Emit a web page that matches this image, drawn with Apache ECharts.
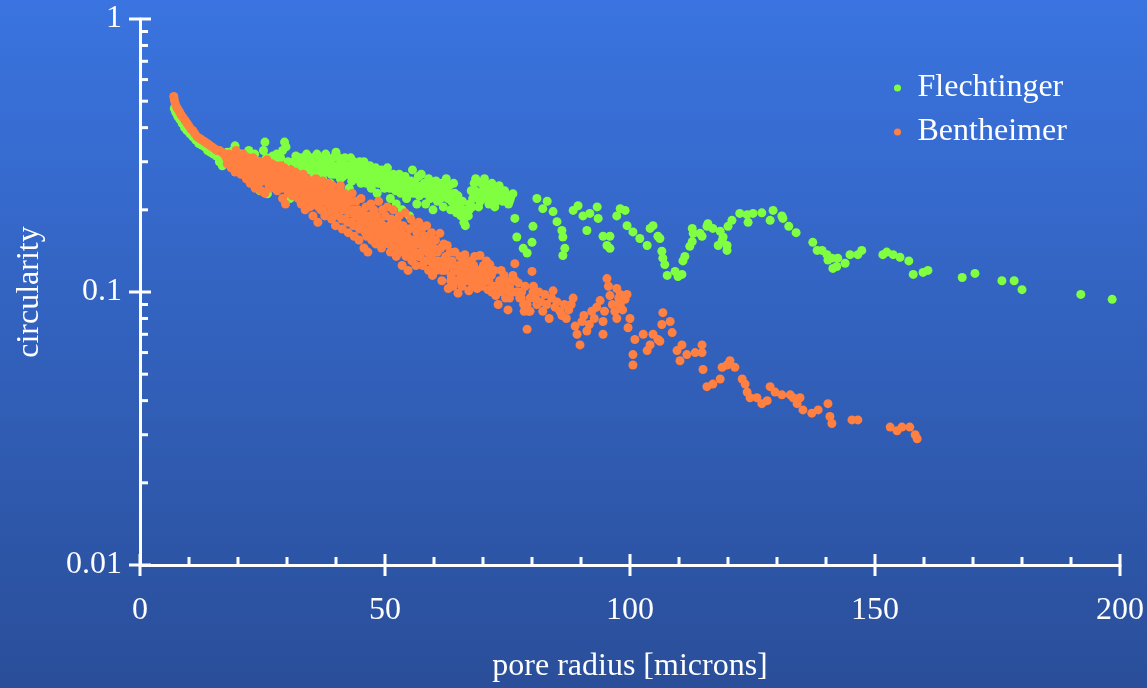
<!DOCTYPE html>
<html>
<head>
<meta charset="utf-8">
<script src="https://cdn.jsdelivr.net/npm/echarts@6/dist/echarts.min.js"></script>
<style>
html,body{margin:0;padding:0;background:#2f5cbc;}
#chart{width:1147px;height:688px;}
</style>
</head>
<body>
<div id="chart"></div>
<script>
// ---- data (x: pore radius [microns], y: circularity) ----
const seriesNames = ['Flechtinger', 'Bentheimer'];

const flechtingerHead = [
[7.0,0.47],[7.3,0.455],[7.7,0.44],[8.1,0.43],[8.6,0.415],[9.1,0.40],[9.6,0.39],[10.2,0.38],[10.8,0.37],[11.4,0.36],
[12.0,0.35],[12.6,0.345],[13.2,0.34],[13.8,0.33],[14.4,0.325],[15.0,0.32],[15.6,0.315],[16.2,0.30],[16.8,0.29]
];
const flechtingerBand1 = [
[17.0,0.32],[17.4,0.30],[17.8,0.325],[18.2,0.31],[18.6,0.29],[19.0,0.33],[19.4,0.343],[19.8,0.31],[20.2,0.29],[20.6,0.32],
[21.0,0.30],[21.4,0.28],[21.8,0.32],[22.2,0.33],[22.6,0.30],[23.0,0.285],[23.4,0.32],[23.8,0.27],[24.2,0.30],[24.5,0.235],
[24.8,0.26],[25.2,0.33],[25.5,0.354],[25.8,0.31],[26.0,0.229],[26.3,0.25],[26.7,0.29],[27.1,0.315],[27.5,0.30],[27.9,0.32],
[28.3,0.29],[28.7,0.31],[29.1,0.33],[29.5,0.354],[29.8,0.34],[30.2,0.30],[30.6,0.22],[31.0,0.26],[31.4,0.30],[31.8,0.315],[32.2,0.29]
];
const flechtingerBand2 = [
[32.5,0.29],[32.8,0.31],[33.1,0.27],[33.4,0.30],[33.7,0.25],[34.0,0.32],[34.3,0.28],[34.6,0.30],[34.9,0.26],[35.2,0.31],
[35.5,0.29],[35.8,0.27],[36.1,0.32],[36.4,0.30],[36.7,0.28],[37.0,0.31],[37.3,0.26],[37.6,0.30],[37.9,0.32],[38.2,0.28],
[38.5,0.30],[38.8,0.25],[39.1,0.29],[39.4,0.31],[39.7,0.27],[40.0,0.325],[40.3,0.29],[40.6,0.31],[40.9,0.26],[41.2,0.30],
[41.5,0.28],[41.8,0.31],[42.1,0.27],[42.4,0.29],[42.7,0.24],[43.0,0.31],[43.3,0.28],[43.6,0.30],[43.9,0.26],[44.2,0.29],
[44.5,0.27],[44.8,0.30],[45.1,0.25],[45.4,0.28],[45.7,0.30],[46.0,0.26],[46.3,0.285],[46.6,0.27],[46.9,0.29],[47.2,0.24],
[47.5,0.275],[47.8,0.26],[48.1,0.285],[48.4,0.23],[48.7,0.27],[49.0,0.25],[49.3,0.28],[49.6,0.26],[49.9,0.24],[50.2,0.27],
[50.5,0.285],[50.8,0.25],[51.1,0.22],[51.4,0.26],[51.7,0.27],[52.0,0.24],[52.3,0.21],[52.6,0.255],[52.9,0.27],[53.2,0.23],
[53.5,0.20],[53.8,0.25],[54.1,0.265],[54.4,0.22],[54.7,0.24],[55.0,0.19],[55.3,0.255],[55.6,0.28],[55.9,0.23],[56.2,0.25],
[56.5,0.21],[56.8,0.265],[57.1,0.24]
];
const flechtingerBand3 = [
[57.4,0.27],[57.7,0.23],[58.0,0.25],[58.3,0.21],[58.6,0.24],[58.9,0.26],[59.2,0.22],[59.5,0.245],[59.8,0.20],[60.1,0.23],
[60.4,0.255],[60.7,0.215],[61.0,0.24],[61.3,0.22],[61.6,0.25],[61.9,0.205],[62.2,0.235],[62.5,0.26],[62.8,0.22],[63.1,0.245],
[63.4,0.20],[63.7,0.225],[64.0,0.25],[64.3,0.21],[64.6,0.195],[64.9,0.225],[65.2,0.20],[65.5,0.19],[65.8,0.215],[66.1,0.18],
[66.4,0.175],[66.7,0.20],[67.0,0.19],[67.3,0.21],[67.6,0.235],[67.9,0.22],[68.2,0.25],[68.5,0.26],[68.8,0.23],[69.1,0.205],
[69.4,0.215],[69.7,0.25],[70.0,0.235],[70.3,0.26],[70.6,0.22],[70.9,0.245],[71.2,0.21],[71.5,0.235],[71.8,0.25],[72.1,0.225],
[72.4,0.205],[72.7,0.24],[73.0,0.22],[73.3,0.245],[73.6,0.23],[74.0,0.215],[74.4,0.235],[74.8,0.225],[75.2,0.21],[75.6,0.22],
[76.1,0.229],[76.5,0.186]
];
const flechtingerFill = [
[33.0,0.29],[33.6,0.28],[34.2,0.295],[34.8,0.285],[35.4,0.275],[36.0,0.29],[36.6,0.27],[37.2,0.285],[37.8,0.275],[38.4,0.29],
[39.0,0.27],[39.6,0.285],[40.2,0.275],[40.8,0.285],[41.4,0.265],[42.0,0.28],[42.6,0.27],[43.2,0.255],[43.8,0.275],[44.4,0.26],
[45.0,0.275],[45.6,0.265],[46.2,0.25],[46.8,0.265],[47.4,0.255],[48.0,0.27],[48.6,0.25],[49.2,0.26],[49.8,0.245],[50.4,0.26],
[51.0,0.24],[51.6,0.25],[52.2,0.235],[52.8,0.245],[53.4,0.255],[54.0,0.235],[54.6,0.25],[55.2,0.23],[55.8,0.245],[56.4,0.235],
[57.0,0.225],[57.6,0.245],[58.2,0.23],[58.8,0.24],[59.4,0.225],[60.0,0.24],[60.6,0.23],[61.2,0.235],[61.8,0.225],[62.4,0.24],
[63.0,0.23],[63.6,0.215],[64.2,0.23],[64.8,0.21],[65.4,0.205],[66.0,0.195],[66.6,0.19],[67.2,0.20],[67.8,0.205],[68.4,0.235],
[69.0,0.22],[69.6,0.23],[70.2,0.24],[70.8,0.23],[71.4,0.22],[72.0,0.235],[72.6,0.215],[73.2,0.23],[73.8,0.22],[74.6,0.225],[75.4,0.215]
];
const flechtingerTail = [
[76.9,0.159],[78.2,0.1445],[79.0,0.139],[80.0,0.152],[80.2,0.174],[81.0,0.220],[83.1,0.215],[82.2,0.202],[84.3,0.197],[85.1,0.181],
[86.1,0.168],[86.3,0.159],[86.7,0.1445],[86.3,0.136],[88.4,0.199],[89.4,0.207],[90.4,0.190],[91.8,0.194],[93.3,0.205],[93.5,0.186],
[91.2,0.168],[94.5,0.160],[95.9,0.160],[95.3,0.148],[95.9,0.1445],[98.0,0.202],[99.0,0.199],[97.3,0.190],[99.4,0.175],[100.6,0.166],
[102.0,0.157],[103.5,0.148],[104.1,0.171],[104.7,0.175],[105.7,0.160],[106.1,0.157],[106.5,0.141],[106.7,0.133],[107.1,0.126],[107.6,0.115],
[109.2,0.119],[109.8,0.114],[110.6,0.116],[110.8,0.130],[111.2,0.135],[112.2,0.147],[112.7,0.153],[112.9,0.164],[112.7,0.171],[114.3,0.164],
[114.7,0.160],[115.7,0.174],[115.9,0.178],[116.9,0.171],[118.4,0.167],[119.0,0.159],[118.8,0.154],[118.0,0.148],[119.8,0.148],[119.8,0.142],
[120.0,0.174],[120.8,0.183],[122.4,0.194],[123.9,0.192],[124.1,0.180],[125.1,0.194],[126.9,0.195],[128.6,0.183],[129.2,0.199],[131.0,0.190],
[131.2,0.186],[132.4,0.174],[133.9,0.165],[137.3,0.152],[138.2,0.142],[139.2,0.142],[140.2,0.137],[140.4,0.131],[141.2,0.133],[141.4,0.122],
[142.2,0.124],[142.4,0.133],[143.9,0.1275],[144.9,0.137],[146.5,0.137],[147.3,0.142],[151.6,0.137],[152.4,0.140],[153.7,0.137],[155.1,0.134],
[156.9,0.130],[157.8,0.116],[159.8,0.118],[160.8,0.120],[167.8,0.113],[170.4,0.117],[175.9,0.110],[178.4,0.110],[180.0,0.102],[192.0,0.098],[198.4,0.094]
];

const bentheimerHead = [
[6.9,0.52],[7.0,0.505],[7.2,0.49],[7.5,0.475],[7.8,0.465],[8.1,0.455],[8.4,0.445],[8.8,0.435],[9.2,0.425],[9.6,0.415],
[10.0,0.405],[10.4,0.395],[10.8,0.39],[11.2,0.38],[11.7,0.37],[12.2,0.365],[12.7,0.36],[13.2,0.355],[13.7,0.35],[14.2,0.345],
[14.7,0.34],[15.2,0.335],[15.7,0.33],[16.2,0.33],[16.7,0.325],[17.2,0.32]
];
const bentheimerBand1 = [
[17.6,0.31],[17.8,0.295],[18.1,0.32],[18.3,0.30],[18.6,0.285],[18.9,0.315],[19.1,0.295],[19.4,0.275],[19.6,0.33],[19.9,0.30],
[20.1,0.285],[20.4,0.31],[20.6,0.27],[20.9,0.295],[21.1,0.32],[21.3,0.28],[21.5,0.30],[21.7,0.26],[21.9,0.29],[22.1,0.31],
[22.3,0.275],[22.5,0.25],[22.7,0.295],[22.9,0.27],[23.1,0.31],[23.3,0.28],[23.5,0.24],[23.7,0.26],[23.9,0.295],[24.1,0.275],
[24.3,0.25],[24.5,0.30],[24.7,0.235],[24.9,0.27],[25.1,0.29],[25.3,0.255],[25.5,0.23],[25.7,0.28],[25.9,0.305],[26.1,0.26],
[26.3,0.24],[26.5,0.285],[26.7,0.265],[26.9,0.295],[27.1,0.25],[27.3,0.275],[27.5,0.24],[27.7,0.29],[27.9,0.26],[28.1,0.28],
[28.3,0.245],[28.5,0.27],[28.7,0.29],[28.9,0.25],[29.1,0.22],[29.3,0.265],[29.5,0.285],[29.7,0.21],[29.9,0.245],[30.1,0.27],
[30.3,0.23],[30.5,0.26],[30.7,0.28],[30.9,0.24],[31.1,0.225],[31.3,0.265],[31.5,0.25],[31.7,0.275],[31.9,0.23]
];
const bentheimerBand2 = [
[32.1,0.255],[32.3,0.22],[32.5,0.265],[32.7,0.24],[32.9,0.21],[33.1,0.25],[33.3,0.27],[33.5,0.23],[33.7,0.20],[33.9,0.245],
[34.1,0.26],[34.3,0.225],[34.5,0.24],[34.7,0.205],[34.9,0.255],[35.1,0.23],[35.3,0.19],[35.5,0.245],[35.7,0.215],[35.9,0.26],
[36.1,0.235],[36.3,0.18],[36.5,0.22],[36.7,0.25],[36.9,0.20],[37.1,0.235],[37.3,0.255],[37.5,0.215],[37.7,0.19],[37.9,0.24],
[38.1,0.225],[38.3,0.20],[38.5,0.25],[38.7,0.21],[38.9,0.23],[39.1,0.185],[39.3,0.245],[39.5,0.22],[39.7,0.20],[39.9,0.175],
[40.1,0.235],[40.3,0.21],[40.5,0.19],[40.7,0.225],[40.9,0.245],[41.1,0.20],[41.3,0.17],[41.5,0.215],[41.7,0.23],[41.9,0.185],
[42.1,0.205],[42.3,0.225],[42.5,0.165],[42.7,0.195],[42.9,0.215],[43.1,0.18],[43.3,0.23],[43.5,0.20],[43.7,0.16],[43.9,0.19],
[44.1,0.215],[44.3,0.175],[44.5,0.20],[44.7,0.155],[44.9,0.185],[45.1,0.22],[45.3,0.17],[45.5,0.195],[45.7,0.145],[45.9,0.18],
[46.1,0.205],[46.3,0.16],[46.5,0.14],[46.7,0.19],[46.9,0.17],[47.1,0.21],[47.3,0.155],[47.5,0.185],[47.7,0.20],[47.9,0.165]
];
const bentheimerBand3 = [
[48.1,0.15],[48.3,0.19],[48.5,0.175],[48.7,0.215],[48.9,0.16],[49.1,0.18],[49.3,0.145],[49.5,0.20],[49.7,0.17],[49.9,0.155],
[50.1,0.19],[50.3,0.165],[50.5,0.205],[50.7,0.15],[50.9,0.175],[51.1,0.14],[51.3,0.185],[51.5,0.16],[51.7,0.20],[51.9,0.145],
[52.1,0.17],[52.3,0.135],[52.5,0.18],[52.7,0.155],[52.9,0.19],[53.1,0.14],[53.3,0.165],[53.5,0.125],[53.7,0.175],[53.9,0.15],
[54.1,0.195],[54.3,0.135],[54.5,0.16],[54.7,0.12],[54.9,0.17],[55.1,0.145],[55.3,0.185],[55.5,0.13],[55.7,0.155],[55.9,0.175],
[56.1,0.14],[56.3,0.125],[56.5,0.165],[56.7,0.15],[56.9,0.18],[57.1,0.135],[57.3,0.155],[57.5,0.17],[57.7,0.125],[57.9,0.145],
[58.1,0.16],[58.3,0.13],[58.5,0.175],[58.7,0.14],[58.9,0.12],[59.1,0.155],[59.3,0.135],[59.5,0.165],[59.7,0.115],[59.9,0.145],
[60.1,0.13],[60.3,0.155],[60.5,0.12],[60.7,0.14]
];
const bentheimerBand4 = [
[61.0,0.125],[61.2,0.164],[61.4,0.145],[61.6,0.11],[61.8,0.13],[62.0,0.15],[62.2,0.12],[62.4,0.135],[62.7,0.148],[62.9,0.103],
[63.1,0.125],[63.3,0.14],[63.5,0.115],[63.7,0.13],[63.9,0.105],[64.1,0.12],[64.3,0.14],[64.5,0.11],[64.9,0.099],[65.1,0.125],
[65.3,0.135],[65.5,0.115],[65.7,0.105],[65.9,0.13],[66.1,0.12],[66.3,0.137],[66.5,0.11],[66.9,0.125],[67.1,0.101],[67.3,0.115],
[67.5,0.13],[67.7,0.12],[67.9,0.105],[68.1,0.125],[68.3,0.135],[68.5,0.11],[68.8,0.103],[69.0,0.12],[69.4,0.136],[69.6,0.115],
[69.8,0.105],[70.1,0.125],[70.4,0.11],[70.7,0.13],[71.0,0.102],[71.4,0.126],[71.7,0.115],[72.0,0.105],[72.3,0.12],[72.6,0.097],
[73.1,0.090],[73.4,0.11],[73.7,0.12],[74.0,0.10],[74.3,0.115],[74.6,0.095],[75.1,0.086],[75.4,0.105],[75.7,0.11],[76.1,0.115],
[76.5,0.127],[76.8,0.10],[77.2,0.108],[77.5,0.095],[77.9,0.10],[78.3,0.09],[78.6,0.105],[79.0,0.073],[79.3,0.085],[79.6,0.095],
[80.0,0.119],[80.3,0.105],[80.7,0.095],[81.0,0.09]
];
const bentheimerBand5 = [
[81.4,0.10],[81.8,0.092],[82.2,0.085],[82.6,0.098],[83.0,0.09],[83.5,0.08],[84.0,0.095],[84.3,0.101],[84.7,0.088],[85.1,0.092],
[85.7,0.085],[86.1,0.082],[86.6,0.09],[87.0,0.08],[87.5,0.086],[88.0,0.09],[88.4,0.095],[88.8,0.075],[89.2,0.07],[89.8,0.064],
[90.2,0.078],[90.6,0.082],[91.2,0.072],[91.7,0.076],[92.2,0.085],[92.7,0.08],[93.2,0.088],[93.9,0.093],[94.5,0.078],[94.5,0.070],
[94.8,0.085],[95.3,0.112],[95.6,0.105],[95.9,0.097],[96.4,0.09],[96.9,0.085],[97.3,0.103],[97.3,0.080],[97.7,0.095],[98.0,0.098],
[98.0,0.090],[98.5,0.086],[99.0,0.094],[99.4,0.098],[99.6,0.074],[100.0,0.08]
];
const bentheimerFill = [
[20.3,0.305],[20.9,0.28],[21.5,0.31],[22.0,0.285],[22.6,0.265],[23.2,0.29],[23.8,0.27],[24.4,0.255],[25.0,0.28],[25.6,0.26],
[26.2,0.275],[26.8,0.245],[27.4,0.26],[28.0,0.235],[28.6,0.255],[29.2,0.24],[29.8,0.26],[30.4,0.245],[31.0,0.255],[31.6,0.235],
[32.2,0.245],[32.8,0.23],[33.4,0.215],[34.0,0.235],[34.6,0.22],[35.2,0.21],[35.8,0.235],[36.4,0.205],[37.0,0.22],[37.6,0.20],
[38.2,0.215],[38.8,0.195],[39.4,0.21],[40.0,0.195],[40.6,0.205],[41.2,0.185],[41.8,0.20],[42.4,0.18],[43.0,0.195],[43.6,0.175],
[44.2,0.19],[44.8,0.17],[45.4,0.185],[46.0,0.165],[46.6,0.18],[47.2,0.16],[47.8,0.175],[48.4,0.165],[49.0,0.155],[49.6,0.175],
[50.2,0.155],[50.8,0.165],[51.4,0.15],[52.0,0.16],[52.6,0.145],[53.2,0.155],[53.8,0.14],[54.4,0.15],[55.0,0.135],[55.6,0.145],
[56.2,0.155],[56.8,0.135],[57.4,0.14],[58.0,0.13],[58.6,0.15],[59.2,0.13],[59.8,0.125],[60.4,0.14],[61.0,0.13],[61.6,0.12],
[62.2,0.13],[62.8,0.125],[63.4,0.11],[64.0,0.125],[64.6,0.12],[65.2,0.11],[65.8,0.12],[66.4,0.115],[67.0,0.11],[67.6,0.11],
[68.2,0.115],[68.8,0.12],[69.4,0.11],[70.0,0.115],[70.6,0.12],[71.2,0.11],[71.8,0.10],[72.4,0.105],[73.0,0.10],[73.6,0.105],
[74.2,0.11],[74.8,0.10],[75.4,0.095],[76.0,0.10],[76.6,0.11],[77.2,0.10],[77.8,0.095],[78.4,0.085],[79.0,0.09],[79.6,0.085],[80.2,0.10]
];
const bentheimerTail = [
[100.6,0.059],[100.6,0.054],[101.0,0.067],[102.7,0.070],[104.7,0.070],[106.1,0.066],[103.5,0.061],[106.7,0.084],[106.5,0.076],[108.2,0.078],
[108.6,0.071],[104.1,0.064],[105.7,0.067],[109.6,0.061],[110.2,0.056],[110.6,0.064],[111.6,0.059],[113.3,0.060],[114.7,0.064],[114.7,0.060],
[114.9,0.052],[115.7,0.045],[116.9,0.046],[118.4,0.048],[118.8,0.053],[120.4,0.056],[121.4,0.053],[119.8,0.054],[122.9,0.048],[123.5,0.046],
[123.9,0.043],[124.5,0.041],[125.9,0.041],[126.9,0.039],[128.0,0.040],[128.6,0.045],[129.6,0.043],[131.0,0.042],[132.7,0.042],[133.3,0.041],
[134.1,0.039],[134.7,0.041],[135.3,0.037],[137.1,0.036],[138.4,0.037],[140.4,0.039],[140.8,0.035],[141.2,0.033],[145.3,0.034],[146.5,0.034],
[153.1,0.032],[154.5,0.031],[155.5,0.032],[157.1,0.032],[158.2,0.030],[158.6,0.029]
];

// ---- axis ticks ----
const xMajorTicks = [0, 50, 100, 150, 200];
const xMinorTicks = [10,20,30,40,60,70,80,90,110,120,130,140,160,170,180,190];
const yMajorTicks = [0.01, 0.1, 1];
const yMinorTicks = [0.02,0.03,0.04,0.05,0.06,0.07,0.08,0.09,0.2,0.3,0.4,0.5,0.6,0.7,0.8,0.9];

const flechtinger = [].concat(flechtingerHead, flechtingerBand1, flechtingerBand2, flechtingerFill, flechtingerBand3, flechtingerTail);
const bentheimer = [].concat(bentheimerHead, bentheimerBand1, bentheimerBand2, bentheimerFill, bentheimerBand3, bentheimerBand4, bentheimerBand5, bentheimerTail);

const FONT = "'Liberation Serif', 'Times New Roman', serif";
const GREEN = '#80ff40';
const ORANGE = '#ff8040';

const chart = echarts.init(document.getElementById('chart'));

function xTickRender(params, api) {
  const p = api.coord([api.value(0), api.value(1)]);
  const major = api.value(2) === 1;
  return {
    type: 'line',
    shape: major ? {x1: p[0], y1: p[1] - 11, x2: p[0], y2: p[1] + 11}
                 : {x1: p[0], y1: p[1] - 8, x2: p[0], y2: p[1]},
    style: {stroke: '#ffffff', lineWidth: 3}
  };
}
function yTickRender(params, api) {
  const p = api.coord([api.value(0), api.value(1)]);
  const major = api.value(2) === 1;
  return {
    type: 'line',
    shape: major ? {x1: p[0] - 11, y1: p[1], x2: p[0] + 11, y2: p[1]}
                 : {x1: p[0], y1: p[1], x2: p[0] + 8, y2: p[1]},
    style: {stroke: '#ffffff', lineWidth: 3}
  };
}

const option = {
  animation: false,
  backgroundColor: {
    type: 'linear', x: 0, y: 0, x2: 0, y2: 1,
    colorStops: [{offset: 0, color: '#3a74e0'}, {offset: 1, color: '#2a4e99'}]
  },
  textStyle: {fontFamily: FONT},
  grid: {left: 140, right: 27, top: 19, bottom: 119, containLabel: false},
  legend: {
    data: seriesNames,
    orient: 'vertical',
    left: 889, top: 67,
    icon: 'circle',
    itemWidth: 16, itemHeight: 7,
    itemGap: 12,
    textStyle: {color: '#ffffff', fontSize: 32, fontFamily: FONT, lineHeight: 32, padding: [0, 0, 0, 7]}
  },
  xAxis: {
    type: 'value', min: 0, max: 200, interval: 50,
    name: 'pore radius [microns]', nameLocation: 'middle', nameGap: 86,
    nameTextStyle: {color: '#ffffff', fontSize: 32, fontFamily: FONT},
    axisLine: {show: true, onZero: false, lineStyle: {color: '#ffffff', width: 3}},
    axisTick: {show: false},
    splitLine: {show: false},
    axisLabel: {color: '#ffffff', fontSize: 32, fontFamily: FONT, margin: 30}
  },
  yAxis: {
    type: 'log', logBase: 10, min: 0.01, max: 1,
    name: 'circularity', nameLocation: 'middle', nameGap: 94, nameRotate: 90,
    nameTextStyle: {color: '#ffffff', fontSize: 32, fontFamily: FONT},
    axisLine: {show: true, lineStyle: {color: '#ffffff', width: 3}},
    axisTick: {show: false},
    minorTick: {show: false},
    splitLine: {show: false},
    axisLabel: {
      color: '#ffffff', fontSize: 32, fontFamily: FONT, margin: 18,
      formatter: function (v) { return String(Number(Number(v).toPrecision(3))); }
    }
  },
  series: [
    {
      name: seriesNames[0], type: 'scatter', data: flechtinger,
      symbol: 'circle', symbolSize: 9,
      itemStyle: {color: GREEN, opacity: 1}, z: 2
    },
    {
      name: seriesNames[1], type: 'scatter', data: bentheimer,
      symbol: 'circle', symbolSize: 9,
      itemStyle: {color: ORANGE, opacity: 1}, z: 3
    },
    {
      type: 'custom', renderItem: xTickRender, silent: true, clip: false, z: 10,
      data: xMajorTicks.map(v => [v, 0.01, 1]).concat(xMinorTicks.map(v => [v, 0.01, 0]))
    },
    {
      type: 'custom', renderItem: yTickRender, silent: true, clip: false, z: 10,
      data: yMajorTicks.map(v => [0, v, 1]).concat(yMinorTicks.map(v => [0, v, 0]))
    }
  ]
};
chart.setOption(option);
</script>
</body>
</html>
